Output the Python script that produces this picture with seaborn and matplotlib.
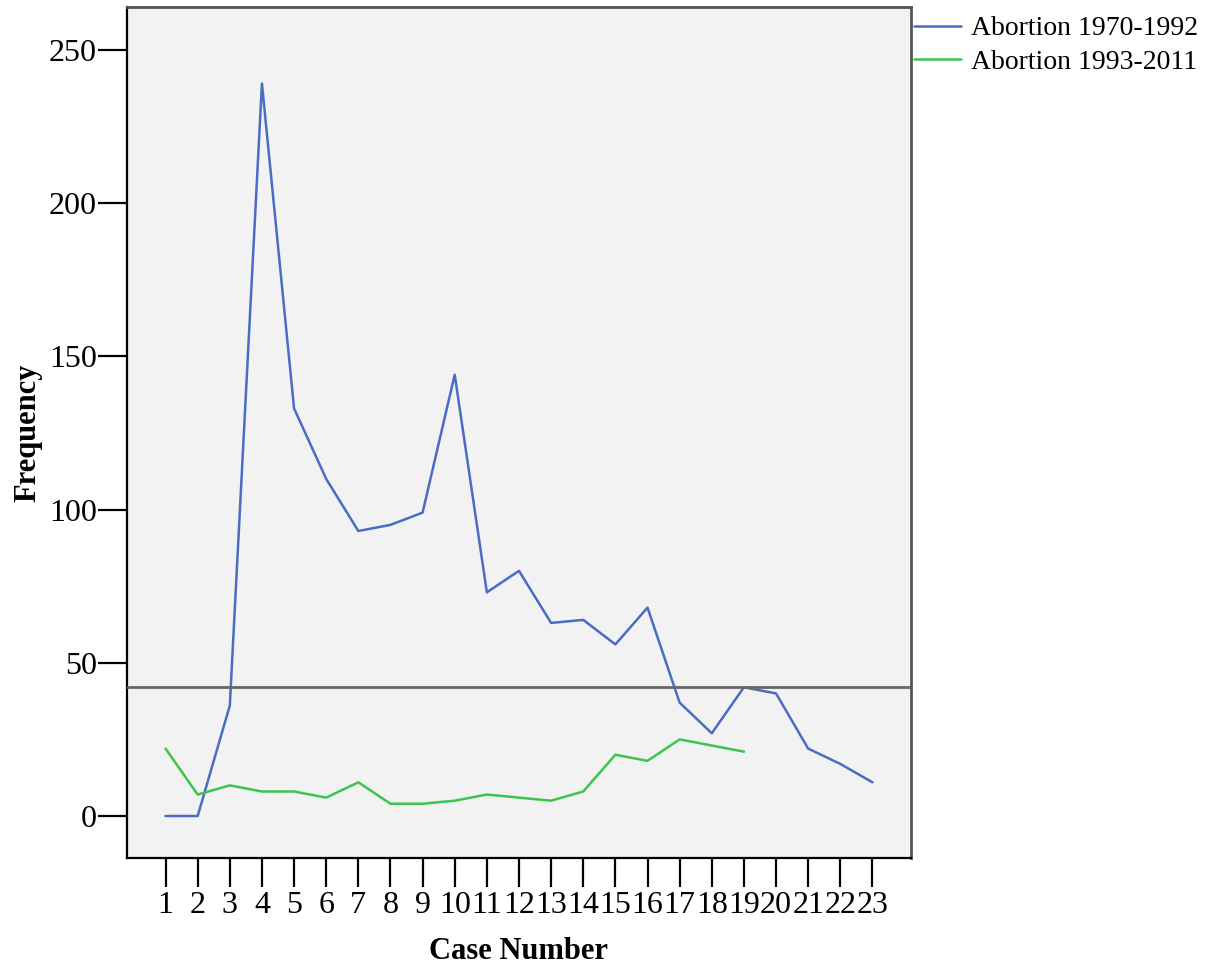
import numpy as np
import matplotlib
matplotlib.use("Agg")
import matplotlib.pyplot as plt
import pandas as pd
import seaborn as sns

# values
cases = list(range(1, 24))
abortion_1970_1992 = [0, 0, 36, 239, 133, 110, 93, 95, 99, 144, 73, 80, 63, 64, 56, 68, 37, 27, 42, 40, 22, 17, 11]
abortion_1993_2011 = [22, 7, 10, 8, 8, 6, 11, 4, 4, 5, 7, 6, 5, 8, 20, 18, 25, 23, 21]
ref_line = 42
y_ticks = [0, 50, 100, 150, 200, 250]

df = pd.concat([
    pd.DataFrame({"case": cases, "freq": abortion_1970_1992, "series": "Abortion 1970-1992"}),
    pd.DataFrame({"case": cases[:len(abortion_1993_2011)], "freq": abortion_1993_2011, "series": "Abortion 1993-2011"}),
])

sns.set_style("ticks")
plt.rcParams["font.family"] = ["Liberation Serif", "DejaVu Serif"]
plt.rcParams["text.color"] = "black"
plt.rcParams["axes.labelcolor"] = "black"
plt.rcParams["xtick.color"] = "black"
plt.rcParams["ytick.color"] = "black"

fig = plt.figure(figsize=(12.14, 9.66), dpi=100)
ax = fig.add_axes([0.1046, 0.1118, 0.6458, 0.881])
ax.set_facecolor("#f2f2f2")

palette = {"Abortion 1970-1992": "#4a6cc4", "Abortion 1993-2011": "#3cc44c"}
sns.lineplot(data=df, x="case", y="freq", hue="series", palette=palette,
             linewidth=1.8, ax=ax, legend=True)
ax.axhline(ref_line, color="#666666", linewidth=2, zorder=3)

ax.set_xlim(-0.2, 24.2)
ax.set_ylim(-13.7, 264)
ax.set_xticks(cases)
ax.set_xticklabels([str(c) for c in cases])
ax.set_yticks(y_ticks)
ax.tick_params(axis="both", length=21, width=1.6, color="black", labelcolor="black",
               labelsize=23, direction="out")
ax.tick_params(axis="y", pad=0.5)
ax.tick_params(axis="x", pad=3)

for side in ["left", "bottom"]:
    ax.spines[side].set_color("black")
    ax.spines[side].set_linewidth(1.6)
for side in ["top", "right"]:
    ax.spines[side].set_color("#555555")
    ax.spines[side].set_linewidth(2)

ax.set_xlabel("Case Number", fontsize=22, fontweight="bold", labelpad=12)
ax.set_ylabel("Frequency", fontsize=22, fontweight="bold", labelpad=5)

leg = ax.legend(loc="upper left", bbox_to_anchor=(0.997, 0.996), frameon=False,
                fontsize=20, handlelength=1.7, handletextpad=0.36, borderaxespad=0.1,
                borderpad=0.1, labelspacing=0.3)
for line in leg.get_lines():
    line.set_linewidth(1.8)
for t in leg.get_texts():
    t.set_color("black")

fig.savefig("out.png", dpi=100)
